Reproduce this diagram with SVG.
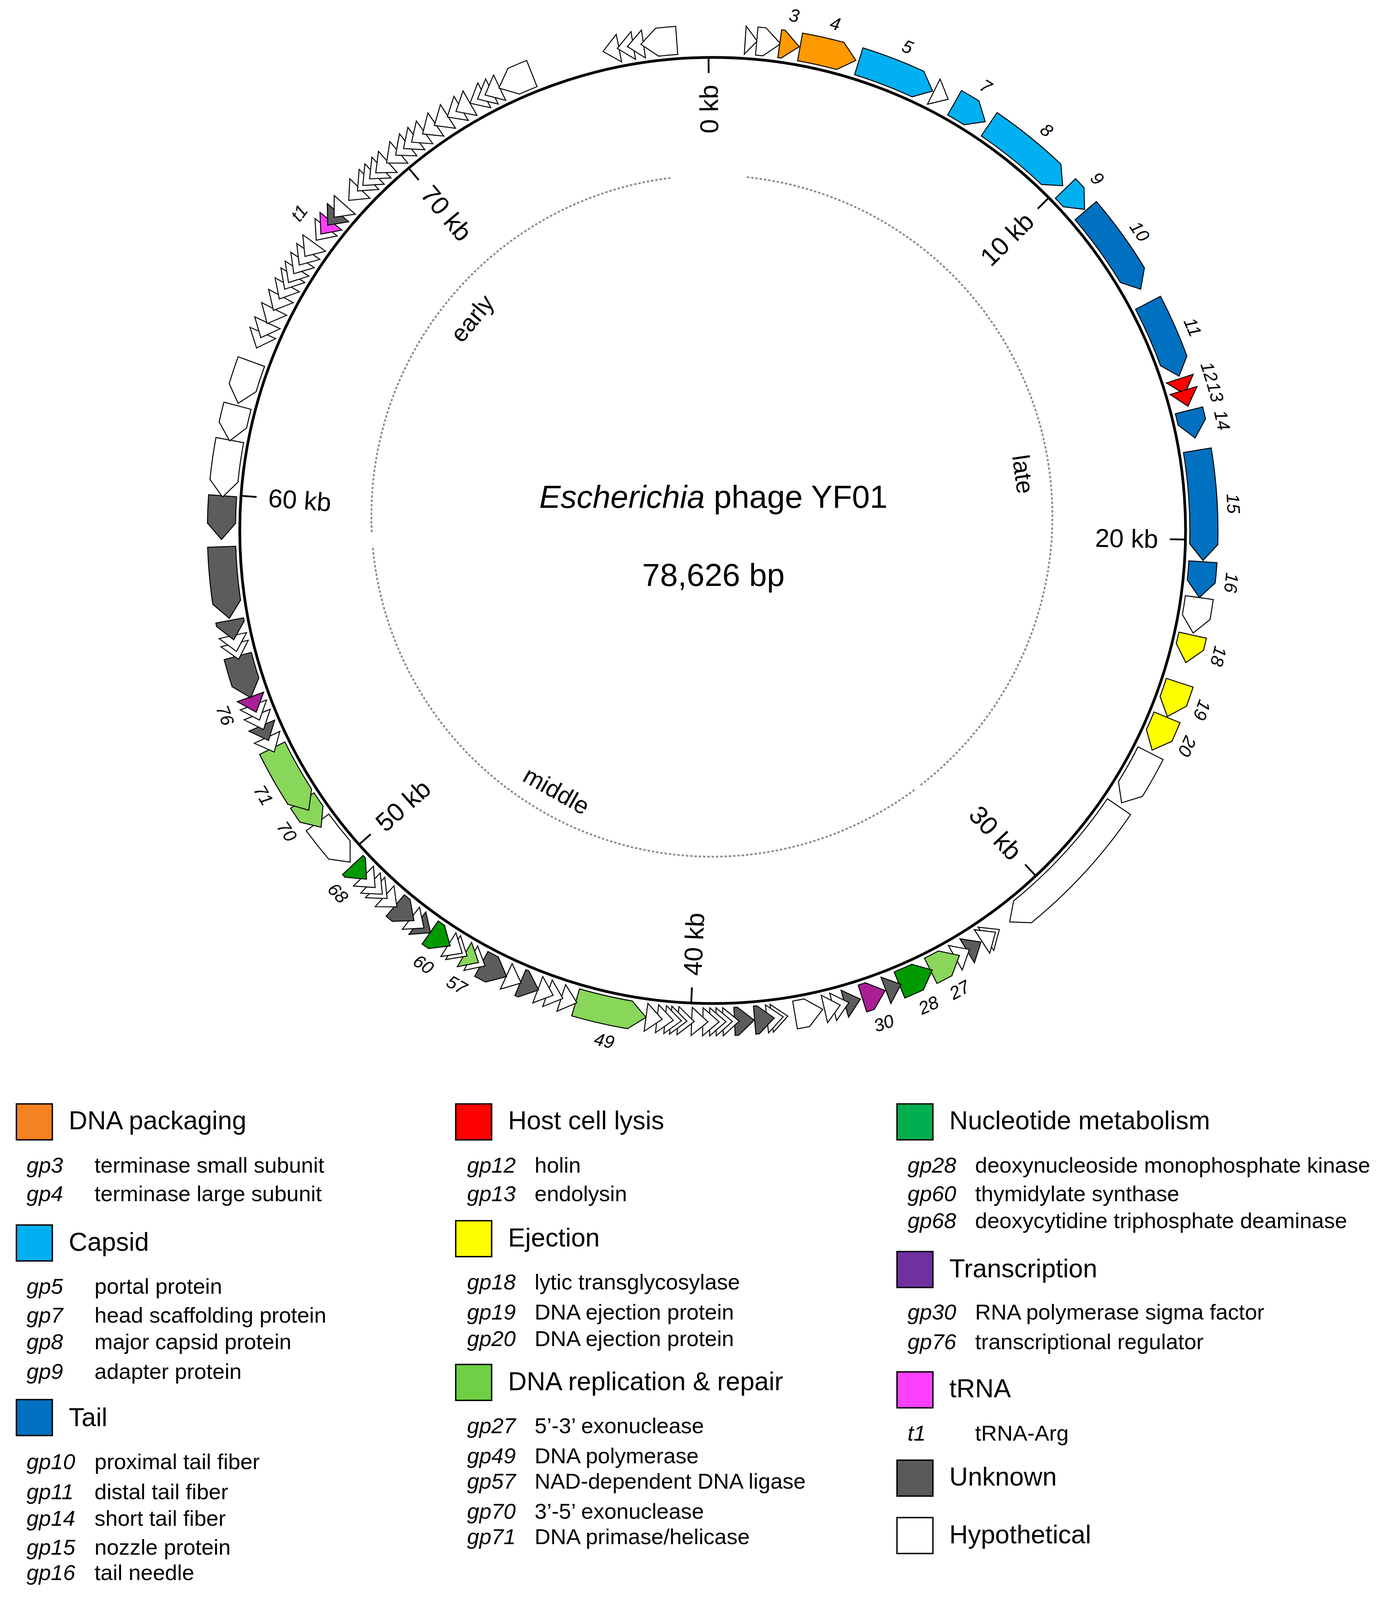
<svg xmlns="http://www.w3.org/2000/svg" xmlns:xlink="http://www.w3.org/1999/xlink" width="3580" height="4111" viewBox="0 0 3580 4111">
<style>
text{font-family:"Liberation Sans",Arial,sans-serif;fill:#000}
.tick{stroke:#000;stroke-width:4.5}
.tk{font-size:66px}
.gl{font-size:46px;font-style:italic}
.ph{font-size:62px}
.arc{fill:none;stroke:#8a8a8a;stroke-width:4.5;stroke-dasharray:6 5}
.cat{font-size:66px}
.it{font-size:56px}
.gp{font-size:56px;font-style:italic}
.sq{stroke:#000;stroke-width:3.5}
.w{fill:#fff}.g{fill:#5b5d5c}.or{fill:#ff9900}.cy{fill:#00b0f0}.bl{fill:#0070c0}.rd{fill:#ff0000}.ye{fill:#ffff00}.lg{fill:#88d65a}.dg{fill:#009900}.pu{fill:#aa1e96}.mg{fill:#ff40ff}
</style>
<defs>
<path id="Ta" d="M-14.93,-1221.91 L-15.81,-1293.90 L15.37,-1257.91Z"/>
<path id="Tb" d="M-20.26,-1221.83 L-21.45,-1293.82 L20.86,-1257.83Z"/>
<path id="Tc" d="M-24.53,-1221.75 L-25.97,-1293.74 A1294,1294 0 0 1 -16.94,-1293.89 L25.25,-1257.75 L-16.00,-1221.90 A1222,1222 0 0 0 -24.53,-1221.75Z"/>
<path id="Td" d="M-29.86,-1221.63 L-31.62,-1293.61 A1294,1294 0 0 1 -11.29,-1293.95 L30.74,-1257.62 L-10.66,-1221.95 A1222,1222 0 0 0 -29.86,-1221.63Z"/>
<path id="Te" d="M-35.19,-1221.49 L-37.26,-1293.46 A1294,1294 0 0 1 -5.65,-1293.99 L36.22,-1257.48 L-5.33,-1221.99 A1222,1222 0 0 0 -35.19,-1221.49Z"/>
<path id="Tf" d="M-40.52,-1221.33 L-42.90,-1293.29 A1294,1294 0 0 1 0,-1294 L41.71,-1257.31 L0,-1222 A1222,1222 0 0 0 -40.52,-1221.33Z"/>
<path id="Tg" d="M-44.78,-1221.18 L-47.42,-1293.13 A1294,1294 0 0 1 4.52,-1293.99 L46.10,-1257.15 L4.27,-1221.99 A1222,1222 0 0 0 -44.78,-1221.18Z"/>
<path id="Th" d="M-54.37,-1220.79 L-57.57,-1292.72 A1294,1294 0 0 1 14.68,-1293.92 L55.97,-1256.75 L13.86,-1221.92 A1222,1222 0 0 0 -54.37,-1220.79Z"/>
<path id="Ti" d="M-63.95,-1220.33 L-67.72,-1292.23 A1294,1294 0 0 1 24.84,-1293.76 L65.84,-1256.28 L23.46,-1221.78 A1222,1222 0 0 0 -63.95,-1220.33Z"/>
<path id="Tj" d="M-71.41,-1219.91 L-75.61,-1291.79 A1294,1294 0 0 1 32.74,-1293.59 L73.51,-1255.85 L30.92,-1221.61 A1222,1222 0 0 0 -71.41,-1219.91Z"/>
<path id="Tk" d="M-89.50,-1218.72 L-94.77,-1290.52 A1294,1294 0 0 1 51.93,-1292.96 L92.13,-1254.62 L49.04,-1221.02 A1222,1222 0 0 0 -89.50,-1218.72Z"/>
<path id="Tl" d="M-99.07,-1217.98 L-104.90,-1289.74 A1294,1294 0 0 1 62.08,-1292.51 L101.98,-1253.86 L58.63,-1220.59 A1222,1222 0 0 0 -99.07,-1217.98Z"/>
<path id="Tm" d="M-119.25,-1216.17 L-126.27,-1287.82 A1294,1294 0 0 1 83.50,-1291.30 L122.76,-1251.99 L78.86,-1219.45 A1222,1222 0 0 0 -119.25,-1216.17Z"/>
<path id="Tn" d="M-137.27,-1214.26 L-145.36,-1285.81 A1294,1294 0 0 1 102.65,-1289.92 L141.32,-1250.04 L96.94,-1218.15 A1222,1222 0 0 0 -137.27,-1214.26Z"/>
<path id="To" d="M-197.48,-1205.94 L-209.12,-1276.99 A1294,1294 0 0 1 166.66,-1283.22 L203.30,-1241.46 L157.39,-1211.82 A1222,1222 0 0 0 -197.48,-1205.94Z"/>
</defs>
<rect width="3580" height="4111" fill="#fff"/>
<g id="backbone">
<circle cx="1825" cy="1358" r="1211" fill="none" stroke="#000" stroke-width="7"/>
</g>
<g id="ticks" transform="translate(1825 1358)">
<g transform="rotate(-0.5)"><line class="tick" x1="0" y1="-1211" x2="0" y2="-1171"/><text class="tk" transform="translate(0 -1141) rotate(-90)" text-anchor="end" dominant-baseline="central">0 kb</text></g>
<g transform="rotate(45.3)"><line class="tick" x1="0" y1="-1211" x2="0" y2="-1171"/><text class="tk" transform="translate(0 -1141) rotate(-90)" text-anchor="end" dominant-baseline="central">10 kb</text></g>
<g transform="rotate(91.1)"><line class="tick" x1="0" y1="-1211" x2="0" y2="-1171"/><text class="tk" transform="translate(0 -1141) rotate(-90)" text-anchor="end" dominant-baseline="central">20 kb</text></g>
<g transform="rotate(136.9)"><line class="tick" x1="0" y1="-1211" x2="0" y2="-1171"/><text class="tk" transform="translate(0 -1141) rotate(-90)" text-anchor="end" dominant-baseline="central">30 kb</text></g>
<g transform="rotate(182.6)"><line class="tick" x1="0" y1="-1211" x2="0" y2="-1171"/><text class="tk" transform="translate(0 -1141) rotate(90)" text-anchor="start" dominant-baseline="central">40 kb</text></g>
<g transform="rotate(228.4)"><line class="tick" x1="0" y1="-1211" x2="0" y2="-1171"/><text class="tk" transform="translate(0 -1141) rotate(90)" text-anchor="start" dominant-baseline="central">50 kb</text></g>
<g transform="rotate(274.2)"><line class="tick" x1="0" y1="-1211" x2="0" y2="-1171"/><text class="tk" transform="translate(0 -1141) rotate(90)" text-anchor="start" dominant-baseline="central">60 kb</text></g>
<g transform="rotate(320)"><line class="tick" x1="0" y1="-1211" x2="0" y2="-1171"/><text class="tk" transform="translate(0 -1141) rotate(90)" text-anchor="start" dominant-baseline="central">70 kb</text></g>
</g>
<g id="phases">
<path class="arc" d="M952.0,1362.1 A872,872 0 0 1 1721.3,455.0"/>
<path class="arc" d="M1912.6,453.6 A872,872 0 0 1 2356.4,2010.8"/>
<path class="arc" d="M2341.7,2022.0 A872,872 0 0 1 954.3,1397.0"/>
<text class="ph" transform="translate(1209 815) rotate(-50.5)" text-anchor="middle" dominant-baseline="central">early</text>
<text class="ph" transform="translate(2620 1214) rotate(82)" text-anchor="middle" dominant-baseline="central">late</text>
<text class="ph" transform="translate(1425 2024) rotate(29.5)" text-anchor="middle" dominant-baseline="central">middle</text>
</g>
<g id="title">
<text x="1827" y="1300" font-size="82" text-anchor="middle"><tspan font-style="italic">Escherichia</tspan> phage YF01</text>
<text x="1827" y="1500" font-size="82" text-anchor="middle">78,626 bp</text>
</g>
<g id="genes" transform="translate(1825 1358)" stroke="#000" stroke-width="2.5" stroke-linejoin="miter">
<use href="#Tb" class="w" transform="rotate(348.05) scale(-1 1)"/>
<use href="#Tb" class="w" transform="rotate(349.75) scale(-1 1)"/>
<use href="#Tb" class="w" transform="rotate(350.95) scale(-1 1)"/>
<use href="#Tg" class="w" transform="rotate(353.7) scale(-1 1)"/>
<use href="#Ta" class="w" transform="rotate(4.5)"/>
<use href="#Td" class="w" transform="rotate(6.55)"/>
<use id="gp3" href="#Tc" class="or" transform="rotate(9.0)"/>
<use id="gp4" href="#Tj" class="or" transform="rotate(13.6)"/>
<use id="gp5" href="#Tl" class="cy" transform="rotate(21.95)"/>
<use href="#Tb" class="w" transform="rotate(27.7)"/>
<use id="gp7" href="#Tg" class="cy" transform="rotate(31.6)"/>
<use id="gp8" href="#Tm" class="cy" transform="rotate(39.85)"/>
<use id="gp9" href="#Te" class="cy" transform="rotate(47.55)"/>
<use id="gp10" href="#Tm" class="bl" transform="rotate(55)"/>
<use id="gp11" href="#Tl" class="bl" transform="rotate(67.05)"/>
<use id="gp12" href="#Tb" class="rd" transform="rotate(72.95)"/>
<use id="gp13" href="#Tb" class="rd" transform="rotate(74.4)"/>
<use id="gp14" href="#Te" class="bl" transform="rotate(77.5)"/>
<use id="gp15" href="#Tn" class="bl" transform="rotate(87.05)"/>
<use id="gp16" href="#Tg" class="bl" transform="rotate(95.75)"/>
<use href="#Tg" class="w" transform="rotate(99.95)"/>
<use id="gp18" href="#Te" class="ye" transform="rotate(103.95)"/>
<use id="gp19" href="#Tg" class="ye" transform="rotate(110.15)"/>
<use id="gp20" href="#Tg" class="ye" transform="rotate(114.45)"/>
<use href="#Tj" class="w" transform="rotate(120.3)"/>
<use href="#To" class="w" transform="rotate(133.5)"/>
<use href="#Tb" class="w" transform="rotate(145.25) scale(-1 1)"/>
<use href="#Tb" class="w" transform="rotate(145.8) scale(-1 1)"/>
<use href="#Tb" class="g" transform="rotate(147.85) scale(-1 1)"/>
<use href="#Tb" class="w" transform="rotate(149.45) scale(-1 1)"/>
<use id="gp27" href="#Tf" class="lg" transform="rotate(151.75) scale(-1 1)"/>
<use id="gp28" href="#Tg" class="dg" transform="rotate(155.55) scale(-1 1)"/>
<use href="#Tb" class="g" transform="rotate(158.4) scale(-1 1)"/>
<use id="gp30" href="#Td" class="pu" transform="rotate(160.85) scale(-1 1)"/>
<use href="#Tb" class="g" transform="rotate(163.45) scale(-1 1)"/>
<use href="#Tb" class="w" transform="rotate(164.85) scale(-1 1)"/>
<use href="#Tb" class="w" transform="rotate(165.9) scale(-1 1)"/>
<use href="#Te" class="w" transform="rotate(168.7) scale(-1 1)"/>
<use href="#Tb" class="w" transform="rotate(172.15) scale(-1 1)"/>
<use href="#Tb" class="w" transform="rotate(172.7) scale(-1 1)"/>
<use href="#Tc" class="g" transform="rotate(173.95) scale(-1 1)"/>
<use href="#Tc" class="g" transform="rotate(176.3) scale(-1 1)"/>
<use href="#Tb" class="w" transform="rotate(177.85) scale(-1 1)"/>
<use href="#Tb" class="w" transform="rotate(178.65) scale(-1 1)"/>
<use href="#Tb" class="w" transform="rotate(179.4) scale(-1 1)"/>
<use href="#Tb" class="w" transform="rotate(180.2) scale(-1 1)"/>
<use href="#Tb" class="w" transform="rotate(181.5) scale(-1 1)"/>
<use href="#Tb" class="w" transform="rotate(183.1) scale(-1 1)"/>
<use href="#Tb" class="w" transform="rotate(183.95) scale(-1 1)"/>
<use href="#Tb" class="w" transform="rotate(184.6) scale(-1 1)"/>
<use href="#Tb" class="w" transform="rotate(185.55) scale(-1 1)"/>
<use href="#Tb" class="w" transform="rotate(186.85) scale(-1 1)"/>
<use id="gp49" href="#Tk" class="lg" transform="rotate(192) scale(-1 1)"/>
<use href="#Tb" class="w" transform="rotate(197) scale(-1 1)"/>
<use href="#Tb" class="w" transform="rotate(198.7) scale(-1 1)"/>
<use href="#Tb" class="w" transform="rotate(199.9) scale(-1 1)"/>
<use href="#Tc" class="g" transform="rotate(201.9) scale(-1 1)"/>
<use href="#Tb" class="w" transform="rotate(203.9) scale(-1 1)"/>
<use href="#Te" class="g" transform="rotate(206.45) scale(-1 1)"/>
<use href="#Tb" class="w" transform="rotate(208.55) scale(-1 1)"/>
<use id="gp57" href="#Tb" class="lg" transform="rotate(209.4) scale(-1 1)"/>
<use href="#Tb" class="w" transform="rotate(210.95) scale(-1 1)"/>
<use href="#Tb" class="w" transform="rotate(211.6) scale(-1 1)"/>
<use id="gp60" href="#Td" class="dg" transform="rotate(213.7) scale(-1 1)"/>
<use href="#Tb" class="g" transform="rotate(216) scale(-1 1)"/>
<use href="#Tb" class="w" transform="rotate(216.95) scale(-1 1)"/>
<use href="#Td" class="g" transform="rotate(218.85) scale(-1 1)"/>
<use href="#Tb" class="w" transform="rotate(220.95) scale(-1 1)"/>
<use href="#Tb" class="w" transform="rotate(222.45) scale(-1 1)"/>
<use href="#Tb" class="w" transform="rotate(223.2) scale(-1 1)"/>
<use href="#Tb" class="w" transform="rotate(224.35) scale(-1 1)"/>
<use id="gp68" href="#Tc" class="dg" transform="rotate(225.95) scale(-1 1)"/>
<use href="#Ti" class="w" transform="rotate(230.55) scale(-1 1)"/>
<use id="gp70" href="#Tf" class="lg" transform="rotate(234.75) scale(-1 1)"/>
<use id="gp71" href="#Tk" class="lg" transform="rotate(239.5) scale(-1 1)"/>
<use href="#Tb" class="w" transform="rotate(244.15) scale(-1 1)"/>
<use href="#Tb" class="g" transform="rotate(245.65) scale(-1 1)"/>
<use href="#Tb" class="w" transform="rotate(247.05) scale(-1 1)"/>
<use href="#Tb" class="w" transform="rotate(248.25) scale(-1 1)"/>
<use id="gp76" href="#Tb" class="pu" transform="rotate(249.25) scale(-1 1)"/>
<use href="#Th" class="g" transform="rotate(252.65) scale(-1 1)"/>
<use href="#Tb" class="w" transform="rotate(255.75) scale(-1 1)"/>
<use href="#Tb" class="w" transform="rotate(256.7) scale(-1 1)"/>
<use href="#Tc" class="g" transform="rotate(258.3) scale(-1 1)"/>
<use href="#Tk" class="g" transform="rotate(263.9) scale(-1 1)"/>
<use href="#Th" class="g" transform="rotate(271.5) scale(-1 1)"/>
<use href="#Tj" class="w" transform="rotate(277.25) scale(-1 1)"/>
<use href="#Tg" class="w" transform="rotate(282.6) scale(-1 1)"/>
<use href="#Th" class="w" transform="rotate(287.55) scale(-1 1)"/>
<use href="#Tb" class="w" transform="rotate(292.75) scale(-1 1)"/>
<use href="#Tb" class="w" transform="rotate(294.05) scale(-1 1)"/>
<use href="#Tb" class="w" transform="rotate(295.85) scale(-1 1)"/>
<use href="#Tb" class="w" transform="rotate(297.55) scale(-1 1)"/>
<use href="#Tb" class="w" transform="rotate(299.05) scale(-1 1)"/>
<use href="#Tb" class="w" transform="rotate(300.35) scale(-1 1)"/>
<use href="#Tb" class="w" transform="rotate(301.25) scale(-1 1)"/>
<use href="#Tb" class="w" transform="rotate(302.45) scale(-1 1)"/>
<use href="#Tb" class="w" transform="rotate(303.65) scale(-1 1)"/>
<use href="#Tb" class="w" transform="rotate(304.85) scale(-1 1)"/>
<use href="#Tb" class="w" transform="rotate(307.15) scale(-1 1)"/>
<use id="t1" href="#Tb" class="mg" transform="rotate(308.05) scale(-1 1)"/>
<use href="#Tb" class="g" transform="rotate(309.35) scale(-1 1)"/>
<use href="#Tb" class="w" transform="rotate(310.55) scale(-1 1)"/>
<use href="#Tb" class="w" transform="rotate(313.15) scale(-1 1)"/>
<use href="#Tb" class="w" transform="rotate(314.65) scale(-1 1)"/>
<use href="#Tb" class="w" transform="rotate(315.55) scale(-1 1)"/>
<use href="#Tb" class="w" transform="rotate(316.65) scale(-1 1)"/>
<use href="#Tb" class="w" transform="rotate(317.65) scale(-1 1)"/>
<use href="#Tb" class="w" transform="rotate(319.35) scale(-1 1)"/>
<use href="#Tb" class="w" transform="rotate(320.75) scale(-1 1)"/>
<use href="#Tb" class="w" transform="rotate(321.95) scale(-1 1)"/>
<use href="#Tb" class="w" transform="rotate(323.15) scale(-1 1)"/>
<use href="#Tb" class="w" transform="rotate(324.75) scale(-1 1)"/>
<use href="#Tb" class="w" transform="rotate(326.45) scale(-1 1)"/>
<use href="#Tb" class="w" transform="rotate(328.25) scale(-1 1)"/>
<use href="#Tb" class="w" transform="rotate(329.45) scale(-1 1)"/>
<use href="#Tb" class="w" transform="rotate(331.35) scale(-1 1)"/>
<use href="#Tb" class="w" transform="rotate(332.35) scale(-1 1)"/>
<use href="#Tb" class="w" transform="rotate(333.35) scale(-1 1)"/>
<use href="#Tg" class="w" transform="rotate(336.3) scale(-1 1)"/>
</g>
<g id="gene-labels" transform="translate(1825 1358)" text-anchor="middle" dominant-baseline="central">
<text class="gl" transform="rotate(9.0) translate(0 -1335)">3</text>
<text class="gl" transform="rotate(13.6) translate(0 -1335)">4</text>
<text class="gl" transform="rotate(21.95) translate(0 -1335)">5</text>
<text class="gl" transform="rotate(31.6) translate(0 -1335)">7</text>
<text class="gl" transform="rotate(39.85) translate(0 -1335)">8</text>
<text class="gl" transform="rotate(47.55) translate(0 -1335)">9</text>
<text class="gl" transform="rotate(55) translate(0 -1335)">10</text>
<text class="gl" transform="rotate(67.05) translate(0 -1335)">11</text>
<text class="gl" transform="rotate(72.3) translate(0 -1335)">12</text>
<text class="gl" transform="rotate(74.6) translate(0 -1335)">13</text>
<text class="gl" transform="rotate(77.8) translate(0 -1335)">14</text>
<text class="gl" transform="rotate(87.05) translate(0 -1335)">15</text>
<text class="gl" transform="rotate(95.75) translate(0 -1335)">16</text>
<text class="gl" transform="rotate(103.95) translate(0 -1335)">18</text>
<text class="gl" transform="rotate(110.15) translate(0 -1335)">19</text>
<text class="gl" transform="rotate(114.45) translate(0 -1335)">20</text>
<text class="gl" transform="rotate(151.75) translate(0 -1335) rotate(180)">27</text>
<text class="gl" transform="rotate(155.55) translate(0 -1335) rotate(180)">28</text>
<text class="gl" transform="rotate(160.85) translate(0 -1335) rotate(180)">30</text>
<text class="gl" transform="rotate(192) translate(0 -1335) rotate(180)">49</text>
<text class="gl" transform="rotate(209.4) translate(0 -1335) rotate(180)">57</text>
<text class="gl" transform="rotate(213.7) translate(0 -1335) rotate(180)">60</text>
<text class="gl" transform="rotate(225.95) translate(0 -1335) rotate(180)">68</text>
<text class="gl" transform="rotate(234.75) translate(0 -1335) rotate(180)">70</text>
<text class="gl" transform="rotate(239.5) translate(0 -1335) rotate(180)">71</text>
<text class="gl" transform="rotate(249.25) translate(0 -1335) rotate(180)">76</text>
<text class="gl" transform="rotate(307.5) translate(0 -1335)">t1</text>
</g>
<g id="legend">
<g id="leg-packaging"><rect class="sq" x="42" y="2826" width="92" height="92" fill="#f58220"/><text class="cat" x="176" y="2891">DNA packaging</text>
<text class="gp" x="68" y="3002">gp3</text><text class="it" x="242" y="3002">terminase small subunit</text>
<text class="gp" x="68" y="3075">gp4</text><text class="it" x="242" y="3075">terminase large subunit</text></g>
<g id="leg-capsid"><rect class="sq" x="42" y="3136" width="92" height="92" fill="#00b0f0"/><text class="cat" x="176" y="3202">Capsid</text>
<text class="gp" x="68" y="3312">gp5</text><text class="it" x="242" y="3312">portal protein</text>
<text class="gp" x="68" y="3386">gp7</text><text class="it" x="242" y="3386">head scaffolding protein</text>
<text class="gp" x="68" y="3454">gp8</text><text class="it" x="242" y="3454">major capsid protein</text>
<text class="gp" x="68" y="3530">gp9</text><text class="it" x="242" y="3530">adapter protein</text></g>
<g id="leg-tail"><rect class="sq" x="42" y="3583" width="92" height="92" fill="#0070c0"/><text class="cat" x="176" y="3651">Tail</text>
<text class="gp" x="68" y="3761">gp10</text><text class="it" x="242" y="3761">proximal tail fiber</text>
<text class="gp" x="68" y="3838">gp11</text><text class="it" x="242" y="3838">distal tail fiber</text>
<text class="gp" x="68" y="3906">gp14</text><text class="it" x="242" y="3906">short tail fiber</text>
<text class="gp" x="68" y="3980">gp15</text><text class="it" x="242" y="3980">nozzle protein</text>
<text class="gp" x="68" y="4045">gp16</text><text class="it" x="242" y="4045">tail needle</text></g>
<g id="leg-lysis"><rect class="sq" x="1167" y="2826" width="92" height="92" fill="#ff0000"/><text class="cat" x="1301" y="2891">Host cell lysis</text>
<text class="gp" x="1196" y="3002">gp12</text><text class="it" x="1369" y="3002">holin</text>
<text class="gp" x="1196" y="3075">gp13</text><text class="it" x="1369" y="3075">endolysin</text></g>
<g id="leg-ejection"><rect class="sq" x="1167" y="3125" width="92" height="92" fill="#ffff00"/><text class="cat" x="1301" y="3191">Ejection</text>
<text class="gp" x="1196" y="3301">gp18</text><text class="it" x="1369" y="3301">lytic transglycosylase</text>
<text class="gp" x="1196" y="3378">gp19</text><text class="it" x="1369" y="3378">DNA ejection protein</text>
<text class="gp" x="1196" y="3446">gp20</text><text class="it" x="1369" y="3446">DNA ejection protein</text></g>
<g id="leg-replication"><rect class="sq" x="1167" y="3493" width="92" height="92" fill="#6fd046"/><text class="cat" x="1301" y="3559">DNA replication &amp; repair</text>
<text class="gp" x="1196" y="3669">gp27</text><text class="it" x="1369" y="3669">5’-3’ exonuclease</text>
<text class="gp" x="1196" y="3746">gp49</text><text class="it" x="1369" y="3746">DNA polymerase</text>
<text class="gp" x="1196" y="3811">gp57</text><text class="it" x="1369" y="3811">NAD-dependent DNA ligase</text>
<text class="gp" x="1196" y="3888">gp70</text><text class="it" x="1369" y="3888">3’-5’ exonuclease</text>
<text class="gp" x="1196" y="3953">gp71</text><text class="it" x="1369" y="3953">DNA primase/helicase</text></g>
<g id="leg-nucleotide"><rect class="sq" x="2297" y="2826" width="92" height="92" fill="#00b050"/><text class="cat" x="2431" y="2891">Nucleotide metabolism</text>
<text class="gp" x="2324" y="3002">gp28</text><text class="it" x="2497" y="3002">deoxynucleoside monophosphate kinase</text>
<text class="gp" x="2324" y="3075">gp60</text><text class="it" x="2497" y="3075">thymidylate synthase</text>
<text class="gp" x="2324" y="3144">gp68</text><text class="it" x="2497" y="3144">deoxycytidine triphosphate deaminase</text></g>
<g id="leg-transcription"><rect class="sq" x="2297" y="3204" width="92" height="92" fill="#7030a0"/><text class="cat" x="2431" y="3270">Transcription</text>
<text class="gp" x="2324" y="3378">gp30</text><text class="it" x="2497" y="3378">RNA polymerase sigma factor</text>
<text class="gp" x="2324" y="3454">gp76</text><text class="it" x="2497" y="3454">transcriptional regulator</text></g>
<g id="leg-trna"><rect class="sq" x="2297" y="3512" width="92" height="92" fill="#ff40ff"/><text class="cat" x="2431" y="3577">tRNA</text>
<text class="gp" x="2324" y="3688">t1</text><text class="it" x="2497" y="3688">tRNA-Arg</text></g>
<g id="leg-unknown"><rect class="sq" x="2297" y="3738" width="92" height="92" fill="#595959"/><text class="cat" x="2431" y="3803">Unknown</text></g>
<g id="leg-hypothetical"><rect class="sq" x="2297" y="3885" width="92" height="92" fill="#ffffff"/><text class="cat" x="2431" y="3951">Hypothetical</text></g>
</g>
</svg>
